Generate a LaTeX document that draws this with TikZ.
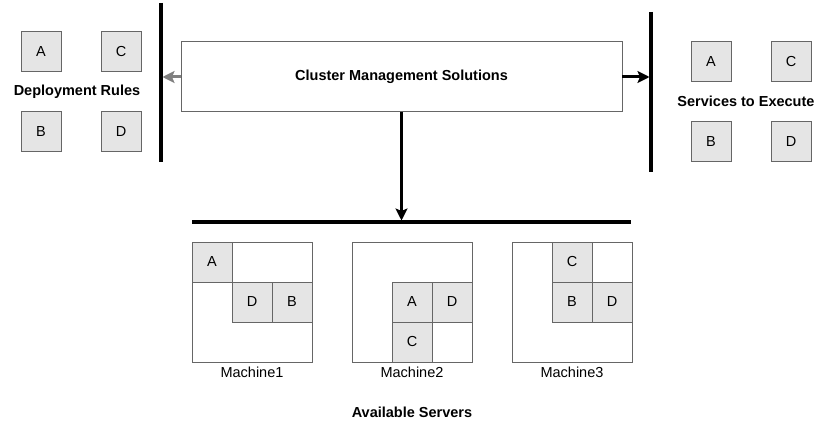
\documentclass[tikz,border=0pt]{standalone}
\usepackage{fontspec}
\setmainfont{Liberation Sans}
\usetikzlibrary{arrows.meta,positioning}

\begin{document}
\begin{tikzpicture}[x=1pt,y=-1pt,
  cell/.style={draw=black!60,fill=black!10,line width=1pt,minimum size=40pt,
    inner sep=0pt,outer sep=0pt,font=\fontsize{14.5}{16}\selectfont},
  machine/.style={draw=black!60,line width=1pt,minimum size=120pt,
    inner sep=0pt,outer sep=0pt,anchor=north west},
  mlabel/.style={font=\fontsize{14.5}{16}\selectfont,inner sep=0pt},
  title/.style={font=\bfseries\fontsize{14.5}{16}\selectfont,inner sep=0pt},
  bar/.style={line width=3.2pt},
  arrow/.style={-{Stealth[length=12pt,width=12pt,inset=2.5pt]},line width=3pt},
]
  \useasboundingbox (0,0) rectangle (825,425);
  % deployment rules
  \node[cell] (ra) at (41,52) {A};
  \node[cell] (rc) at (121,52) {C};
  \node[cell] (rb) at (41,132) {B};
  \node[cell] (rd) at (121,132) {D};
  \node[title] (rules) at (77,92) {Deployment Rules};
  % services to execute
  \node[cell] (sa) at (711,62) {A};
  \node[cell] (sc) at (791,62) {C};
  \node[cell] (sb) at (711,142) {B};
  \node[cell] (sd) at (791,142) {D};
  \node[title] (services) at (746,101) {Services to Execute};
  % cluster manager
  \node[draw=black!60,line width=1pt,minimum width=441pt,minimum height=70pt,
    outer sep=0pt,title] (cms) at (401.5,77) {Cluster Management Solutions};
  \coordinate (lbt) at (161,3);
  \coordinate (lbb) at (161,162);
  \coordinate (rbt) at (651,12);
  \coordinate (rbb) at (651,172);
  \coordinate (sbl) at (192,222);
  \coordinate (sbr) at (631,222);
  \draw[bar] (lbt) -- (lbb);
  \draw[bar] (rbt) -- (rbb);
  \draw[bar] (sbl) -- (sbr);
  \draw[arrow,black!50] (cms.west) -- ([xshift=1.5pt]cms.west -| lbt);
  \draw[arrow] (cms.east) -- ([xshift=-1.5pt]cms.east -| rbt);
  \draw[arrow] (cms.south) -- ([yshift=1.5pt]cms.south |- sbl);
  % machines
  \node[machine] (m1) at (192,242) {};
  \node[cell,anchor=north west] (m1a) at (m1.north west) {A};
  \node[cell,below right=0pt of m1a] (m1d) {D};
  \node[cell,right=0pt of m1d] (m1b) {B};
  \node[mlabel,below=5pt of m1] {Machine1};

  \node[machine] (m2) at (352,242) {};
  \node[cell,below right=40pt and 40pt of m2.north west] (m2a) {A};
  \node[cell,right=0pt of m2a] (m2d) {D};
  \node[cell,below=0pt of m2a] (m2c) {C};
  \node[mlabel,below=5pt of m2] {Machine2};

  \node[machine] (m3) at (512,242) {};
  \node[cell,anchor=north west,xshift=40pt] (m3c) at (m3.north west) {C};
  \node[cell,below=0pt of m3c] (m3b) {B};
  \node[cell,right=0pt of m3b] (m3d) {D};
  \node[mlabel,below=5pt of m3] {Machine3};

  \node[title] (servers) at (412,412) {Available Servers};
\end{tikzpicture}
\end{document}
